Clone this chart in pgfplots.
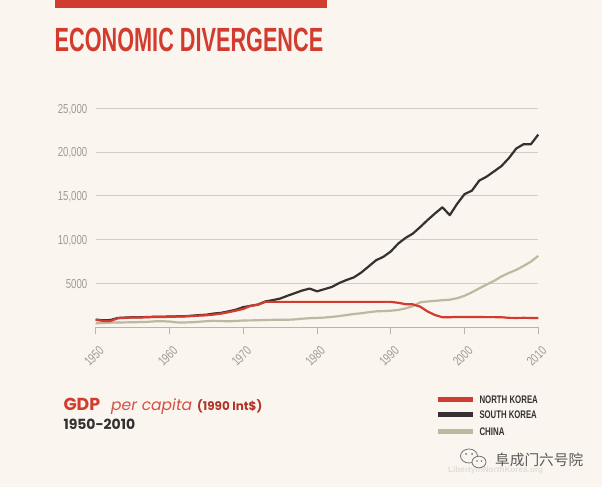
\documentclass[border=0pt]{standalone}
\usepackage{pgfplots}
\pgfplotsset{compat=1.18}
\usepackage{pgfplotstable}
\usepackage{fontspec}
\setmainfont{Liberation Sans}
\newfontfamily\cond[FakeStretch=0.74]{Liberation Sans}
\newfontfamily\pop{Poppins}
\newfontfamily\cjk{Noto Sans CJK SC}

\definecolor{bg}{HTML}{FAF5EF}
\definecolor{nkred}{HTML}{D23C2F}
\definecolor{skdark}{HTML}{353131}
\definecolor{cnbeige}{HTML}{BEB99E}
\definecolor{gridc}{HTML}{D3CDC4}
\definecolor{axisc}{HTML}{B9B4AC}
\definecolor{tickc}{HTML}{9F9A92}

% GDP per capita, 1990 Int$: year, North Korea, South Korea, China
\pgfplotstableread{
year nk sk cn
1950 860 880 460
1951 730 800 490
1952 720 830 530
1953 1030 1070 550
1954 1080 1110 560
1955 1120 1150 570
1956 1120 1140 600
1957 1150 1180 620
1958 1170 1200 680
1959 1180 1210 690
1960 1190 1230 660
1961 1220 1250 560
1962 1240 1260 550
1963 1280 1320 580
1964 1330 1390 630
1965 1370 1440 700
1966 1450 1570 740
1967 1560 1650 710
1968 1720 1820 690
1969 1900 2010 720
1970 2100 2300 780
1971 2450 2450 790
1972 2580 2600 800
1973 2900 2950 840
1974 2900 3100 850
1975 2900 3280 870
1976 2900 3600 860
1977 2900 3900 900
1978 2900 4200 980
1979 2900 4420 1040
1980 2900 4110 1070
1981 2900 4350 1110
1982 2900 4600 1190
1983 2900 5050 1280
1984 2900 5400 1400
1985 2900 5700 1520
1986 2900 6250 1600
1987 2900 6950 1720
1988 2900 7650 1820
1989 2900 8050 1850
1990 2900 8650 1890
1991 2800 9550 1980
1992 2640 10200 2150
1993 2620 10700 2420
1994 2350 11450 2850
1995 1800 12250 2950
1996 1400 13000 3020
1997 1150 13700 3090
1998 1150 12800 3150
1999 1180 14100 3320
2000 1170 15200 3600
2001 1170 15600 4000
2002 1170 16750 4450
2003 1160 17200 4880
2004 1160 17800 5300
2005 1150 18400 5800
2006 1080 19300 6200
2007 1070 20400 6550
2008 1080 20900 7000
2009 1070 20900 7500
2010 1070 22000 8150
}\gdp

\begin{document}
\begin{tikzpicture}
\path[use as bounding box, fill=bg] (0,0) rectangle (602pt,487pt);

% header
\fill[nkred] (54.5pt,478.7pt) rectangle (327pt,487pt);
\node[anchor=base west, inner sep=0pt, text=nkred] at (54.5pt,435.3pt)
  {\resizebox{268.5pt}{23.4pt}{\bfseries ECONOMIC DIVERGENCE}};

\begin{axis}[
  at={(95.7pt,159.7pt)}, anchor=south west,
  scale only axis, width=442.6pt, height=219pt,
  xmin=1950, xmax=2010, ymin=0, ymax=25000,
  axis lines*=left,
  x axis line style={draw=axisc, line width=1.2pt, -},
  y axis line style={draw=none},
  tick align=outside,
  scaled y ticks=false,
  xtick={1950,1960,...,2010},
  xticklabels={1950,1960,1970,1980,1990,2000,2010},
  ytick={5000,10000,15000,20000,25000},
  yticklabels={5000,{10,000},{15,000},{20,000},{25,000}},
  xtick style={draw=axisc, line width=1pt, /pgfplots/major tick length=7pt},
  ytick style={draw=none, /pgfplots/major tick length=0pt},
  ymajorgrids,
  grid style={draw=gridc, line width=1pt},
  xticklabel style={font=\cond\fontsize{13}{13}\selectfont, text=tickc,
    yshift=-24.7pt, xshift=-1.7pt, rotate=45, anchor=center, inner sep=0pt},
  yticklabel style={font=\cond\fontsize{13}{13}\selectfont, text=tickc,
    anchor=east, inner sep=0pt, xshift=-4pt, yshift=-1pt},
  clip=false,
]
\addplot[draw=cnbeige, line width=2.2pt, line join=round] table[x=year, y=cn] {\gdp};
\addplot[draw=skdark, line width=2.2pt, line join=round] table[x=year, y=sk] {\gdp};
\addplot[draw=nkred, line width=2.2pt, line join=round] table[x=year, y=nk] {\gdp};
\end{axis}

% subtitle block
\node[anchor=base west, inner sep=0pt, text=nkred] at (63.3pt,77pt)
  {\resizebox{36.7pt}{!}{\pop\bfseries GDP}};
\node[anchor=base west, inner sep=0pt, text=nkred!90!white] at (111pt,77pt)
  {\resizebox{81pt}{!}{\pop\itshape per capita}};
\node[anchor=base west, inner sep=0pt, text=nkred!85!black] at (197pt,76.5pt)
  {\resizebox{65pt}{!}{\pop\bfseries (1990 Int\$)}};
\node[anchor=base west, inner sep=0pt, text=skdark] at (63.3pt,57pt)
  {\resizebox{71.7pt}{!}{\pop\bfseries 1950-2010}};

% legend
\draw[nkred, line width=5pt] (437.7pt,87.7pt) -- (473.3pt,87.7pt);
\draw[skdark, line width=5pt] (437.7pt,72pt) -- (473.3pt,72pt);
\draw[cnbeige, line width=5pt] (437.7pt,55.3pt) -- (473.3pt,55.3pt);
\node[anchor=west, inner sep=0pt, text=skdark] at (479.3pt,87.7pt)
  {\resizebox{58.4pt}{7.7pt}{\bfseries NORTH KOREA}};
\node[anchor=west, inner sep=0pt, text=skdark] at (479.3pt,72pt)
  {\resizebox{57.3pt}{7.7pt}{\bfseries SOUTH KOREA}};
\node[anchor=west, inner sep=0pt, text=skdark] at (479.3pt,55.3pt)
  {\resizebox{25pt}{7.7pt}{\bfseries CHINA}};

% watermark
\node[anchor=west, inner sep=0pt, text=black!10!bg] at (448pt,17pt)
  {\resizebox{95pt}{!}{\bfseries LibertyinNorthKorea.org}};
\draw[black!55, line width=0.8pt, fill=bg] (469pt,31pt) ellipse (8.5pt and 7pt);
\fill[black!55] (466pt,33pt) circle (1pt) (472pt,33pt) circle (1pt);
\draw[black!55, line width=0.8pt, fill=bg] (479pt,25pt) ellipse (7pt and 5.8pt);
\fill[black!55] (477pt,26pt) circle (0.8pt) (481.5pt,26pt) circle (0.8pt);
\node[anchor=west, inner sep=0pt, text=black!65] at (495pt,27pt)
  {\resizebox{88pt}{!}{\cjk 阜成门六号院}};
\end{tikzpicture}
\end{document}
